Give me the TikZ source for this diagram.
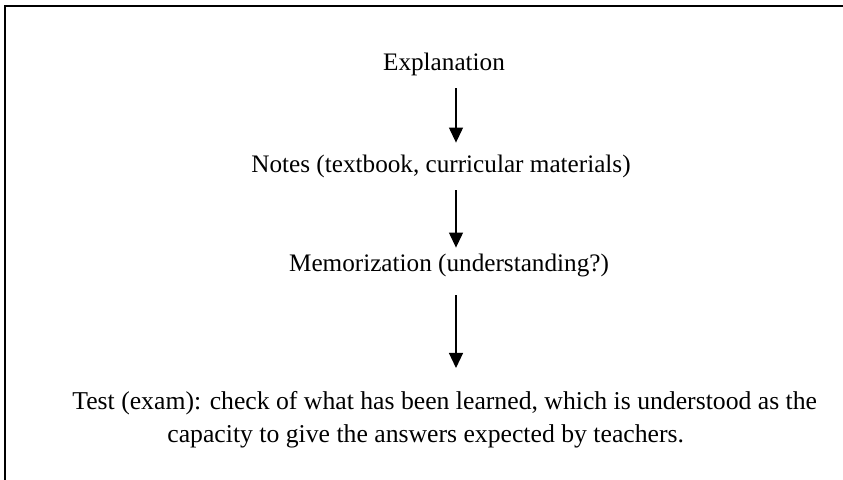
\documentclass[tikz,border=0pt]{standalone}
\usepackage{fontspec}
\setmainfont{Liberation Serif}
\usetikzlibrary{arrows.meta}
\tikzstyle{stage} = [inner sep=0pt, text height=9pt, text depth=3pt, anchor=base, font=\fontsize{12.6}{16.5}\selectfont]
\tikzstyle{flow} = [-{Triangle[width=7pt,length=7.5pt]}, line width=0.6pt]

\begin{document}
\begin{tikzpicture}[x=0.5pt, y=-0.5pt]
    \useasboundingbox (0,0) rectangle (843,480);
    \draw [line width=1pt] (5,480) -- (5,6) -- (843,6);
    \coordinate (spine) at (456,0);
    \node (expl) [stage] at (444,71) {Explanation};
    \node (notes) [stage] at (441,173) {Notes (textbook, curricular materials)};
    \node (memo) [stage] at (449,272) {Memorization (understanding?)};
    \node (test) [stage, text height=, text depth=, anchor=north west, align=left,
        font=\fontsize{12.85}{16.5}\selectfont] at (72,391)
        {Test (exam): check of what has been learned, which is understood as the\\
         \hspace*{47.5pt}capacity to give the answers expected by teachers.};
    \draw [flow, shorten <=5.5pt, shorten >=6pt] (expl.south -| spine) -- (notes.north -| spine);
    \draw [flow, shorten <=5.5pt, shorten >=3pt] (notes.south -| spine) -- (memo.north -| spine);
    \draw [flow, shorten <=8.5pt, shorten >=11.5pt] (memo.south -| spine) -- (test.north -| spine);
\end{tikzpicture}
\end{document}
